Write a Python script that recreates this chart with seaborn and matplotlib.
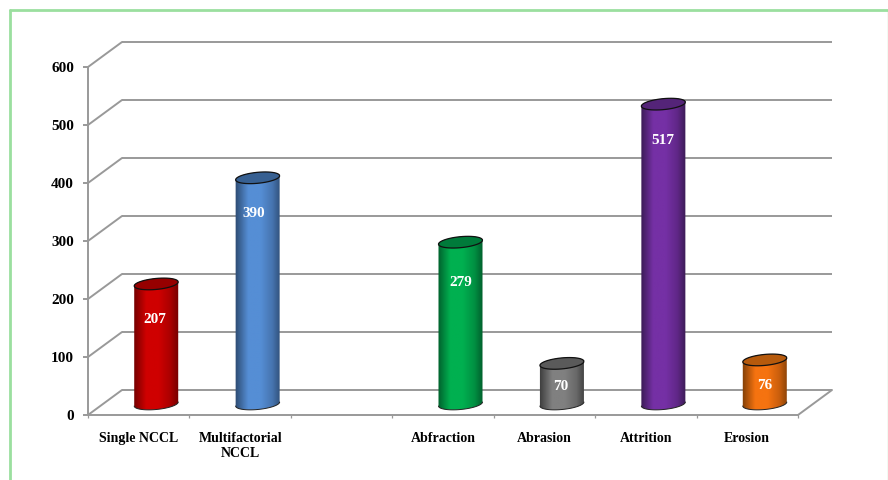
import numpy as np
import matplotlib
matplotlib.use("Agg")
import matplotlib.pyplot as plt
import matplotlib.colors as mcolors
from matplotlib.path import Path
from matplotlib.patches import PathPatch
from matplotlib.transforms import ScaledTranslation
import seaborn as sns

categories = ["Single NCCL", "Multifactorial\nNCCL", " ", "Abfraction", "Abrasion", "Attrition", "Erosion"]
counts = [207, 390, np.nan, 279, 70, 517, 76]
y_ticks = [0, 100, 200, 300, 400, 500, 600]

# (shadow edge, lit centre, top cap) for each cylinder
shades = [
    ("#6e0000", "#cf0000", "#960000"),
    ("#2c4a70", "#558ed5", "#376092"),
    None,
    ("#005a2a", "#00b050", "#007a3a"),
    ("#3a3a3a", "#808080", "#5a5a5a"),
    ("#371a50", "#7530a5", "#542478"),
    ("#7f3e06", "#f57310", "#b65a0c"),
]
label_drop_px = [36, 36, None, 40, 23, 36, 26]
label_shift_px = [-1, -4, None, 0, -1, -1, 0]

DPI = 100
sns.set_style("white")
plt.rcParams["font.family"] = ["Liberation Serif"]
plt.rcParams["font.weight"] = "bold"

fig = plt.figure(figsize=(8.88, 4.80), dpi=DPI, facecolor="white")
ax = fig.add_axes([88 / 888, (480 - 415) / 480, 710 / 888, 348 / 480])

sns.barplot(x=categories, y=counts, order=categories, width=44 / 101.43, color="#cccccc", ax=ax, zorder=3)
ax.set_xlim(-0.5, 6.5)
ax.set_ylim(0, 600)

GRID = "#999999"
LW = 1.4
PX_X = 710 / 7      # pixels per category slot
PX_Y = 348 / 600    # pixels per count

# Oblique depth of the floor and back wall
depth_x, depth_y = 34, 25
back = ax.transData + ScaledTranslation(depth_x / DPI, depth_y / DPI, fig.dpi_scale_trans)
for v in y_ticks:
    ax.plot([-0.5, 6.5], [v, v], color=GRID, lw=LW, transform=back, clip_on=False, zorder=1, solid_capstyle="butt")
    ax.plot([-0.5, -0.5 + depth_x / PX_X], [v, v + depth_y / PX_Y], color=GRID, lw=LW, clip_on=False, zorder=1)
ax.plot([6.5, 6.5 + depth_x / PX_X], [0, depth_y / PX_Y], color=GRID, lw=LW, clip_on=False, zorder=1)

# Cylinders stand midway through the floor depth
mid = ax.transData + ScaledTranslation(17.5 / DPI, 11 / DPI, fig.dpi_scale_trans)


def arc(cx, cy, t0, t1, half_w, half_h=5.5, tilt=2.0, n=48):
    """Tilted ellipse arc, returned in data units."""
    t = np.linspace(t0, t1, n)
    xs = cx + half_w * np.cos(t) / PX_X
    ys = cy + (half_h * np.sin(t) + tilt * np.cos(t)) / PX_Y
    return np.column_stack([xs, ys])


for bar in list(ax.patches):
    height = bar.get_height()
    if not np.isfinite(height) or height == 0:
        continue
    cx = bar.get_x() + bar.get_width() / 2
    half_w = bar.get_width() / 2 * PX_X
    i = int(round(cx))
    edge, lit, cap = shades[i]
    bar.set_visible(False)

    lower = arc(cx, 0, np.pi, 2 * np.pi, half_w)
    upper = arc(cx, height, 0, np.pi, half_w)
    outline = np.vstack([lower, upper, lower[:1]])

    ramp = mcolors.LinearSegmentedColormap.from_list(
        "c", [(0, edge), (0.28, lit), (0.55, lit),
              (0.8, mcolors.to_hex(np.array(mcolors.to_rgb(lit)) * 0.82)), (1, edge)]
    )
    left = cx - bar.get_width() / 2
    im = ax.imshow(np.linspace(0, 1, 128)[None, :], cmap=ramp, aspect="auto",
                   extent=[left - 0.01, left + bar.get_width() + 0.01, -20, height + 20],
                   zorder=3, interpolation="bilinear")
    im.set_transform(mid)
    clip = PathPatch(Path(outline), transform=mid, facecolor="none", edgecolor="none")
    ax.add_patch(clip)
    im.set_clip_path(clip)

    ax.plot(lower[:, 0], lower[:, 1], color="#222222", lw=0.7, transform=mid, clip_on=False, zorder=4)
    ring = arc(cx, height, 0, 2 * np.pi, half_w)
    ax.add_patch(PathPatch(Path(ring), facecolor=cap, edgecolor="#111111", lw=0.9,
                           transform=mid, clip_on=False, zorder=5))

    ax.annotate(f"{int(height)}", (cx, height), xycoords=mid,
                xytext=(label_shift_px[i] * 72 / DPI, -label_drop_px[i] * 72 / DPI), textcoords="offset points",
                ha="center", va="center", color="white", fontsize=11, fontweight="bold", zorder=6)

ax.set_ylim(0, 600)
ax.set_xlim(-0.5, 6.5)
sns.despine(ax=ax)
for s in ("left", "bottom"):
    ax.spines[s].set_color(GRID)
    ax.spines[s].set_linewidth(LW)

ax.set_yticks(y_ticks)
ax.set_yticklabels([str(v) for v in y_ticks], fontsize=11, fontweight="bold", color="black")
ax.tick_params(axis="y", left=True, length=3.6, width=LW, color=GRID, pad=6.5)

ax.set_xticks(range(len(categories)))
ax.set_xticklabels(categories, fontsize=10, fontweight="bold", color="black", linespacing=1.2)
ax.tick_params(axis="x", which="major", bottom=False, length=0, pad=12)
ax.set_xticks(np.arange(-0.5, 7, 1), minor=True)
ax.tick_params(axis="x", which="minor", bottom=True, length=2.4, width=0.9, color=GRID)
ax.set_xlabel("")
ax.set_ylabel("")
ax.patch.set_alpha(0)

# Light green frame around the figure, running off the lower edge
frame_color = "#9bdf9f"
fw = 2.0
fig.add_artist(plt.Line2D([9.5 / 888, 9.5 / 888], [0, 1 - 10 / 480], color=frame_color, lw=fw, transform=fig.transFigure))
fig.add_artist(plt.Line2D([9.5 / 888, 887.5 / 888], [1 - 10 / 480, 1 - 10 / 480], color=frame_color, lw=fw, transform=fig.transFigure))
fig.add_artist(plt.Line2D([887.5 / 888, 887.5 / 888], [0, 1 - 10 / 480], color=frame_color, lw=0.9, transform=fig.transFigure))

fig.savefig("out.png", dpi=DPI, facecolor="white")
